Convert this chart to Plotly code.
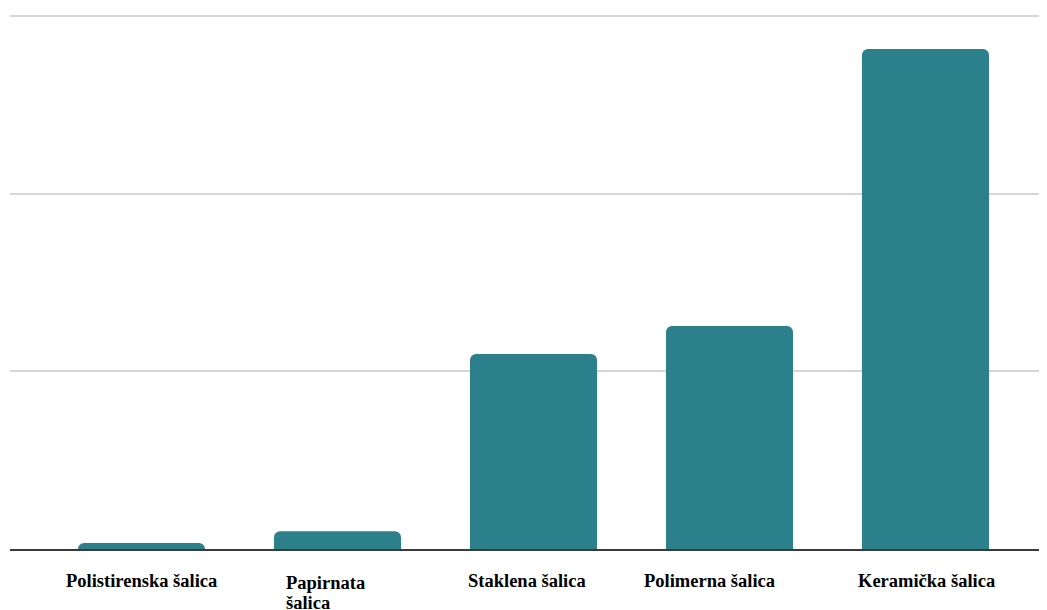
import plotly.graph_objects as go

categories = ["Polistirenska šalica", "Papirnata šalica", "Staklena šalica", "Polimerna šalica", "Keramička šalica"]
values = [0.034, 0.10, 1.097, 1.255, 2.814]
label_lines = [["Polistirenska šalica"], ["Papirnata", "šalica"], ["Staklena šalica"], ["Polimerna šalica"], ["Keramička šalica"]]

fig = go.Figure()
fig.add_trace(go.Bar(
    x=categories, y=values, width=0.648,
    marker=dict(color="#2C808B", cornerradius=6, line=dict(width=0)),
    hoverinfo="x+y",
))

shifts = [0, -53.5, -6.5, -19.5, 1.5]
anchors = ["center", "left", "center", "center", "center"]
yshifts = [-20, -22, -20, -20, -20]
for cat, lines, sh, an, ys in zip(categories, label_lines, shifts, anchors, yshifts):
    for i, line in enumerate(lines):
        fig.add_annotation(
            x=cat, y=0, xref="x", yref="paper", yanchor="top", yshift=ys - 20 * i,
            text=f"<b>{line}</b>", showarrow=False, xshift=sh, xanchor=an,
            font=dict(family="Liberation Serif, Times New Roman, serif", size=18.5, color="#000"),
        )

fig.update_layout(
    width=1039, height=602,
    margin=dict(l=2, r=0, t=2, b=61),
    paper_bgcolor="white", plot_bgcolor="white",
    showlegend=False,
    bargap=0.35,
    xaxis=dict(range=[-0.671, 4.62], showticklabels=False, showgrid=False,
               showline=True, linecolor="#3a3a3a", linewidth=1.5, ticks="", zeroline=False),
    yaxis=dict(range=[0, 3.034], tickvals=[0, 1, 2, 3], showticklabels=False,
               showgrid=True, gridcolor="#d6d6d6", gridwidth=1.5, zeroline=False, showline=False),
)

fig.write_html("out.html")
